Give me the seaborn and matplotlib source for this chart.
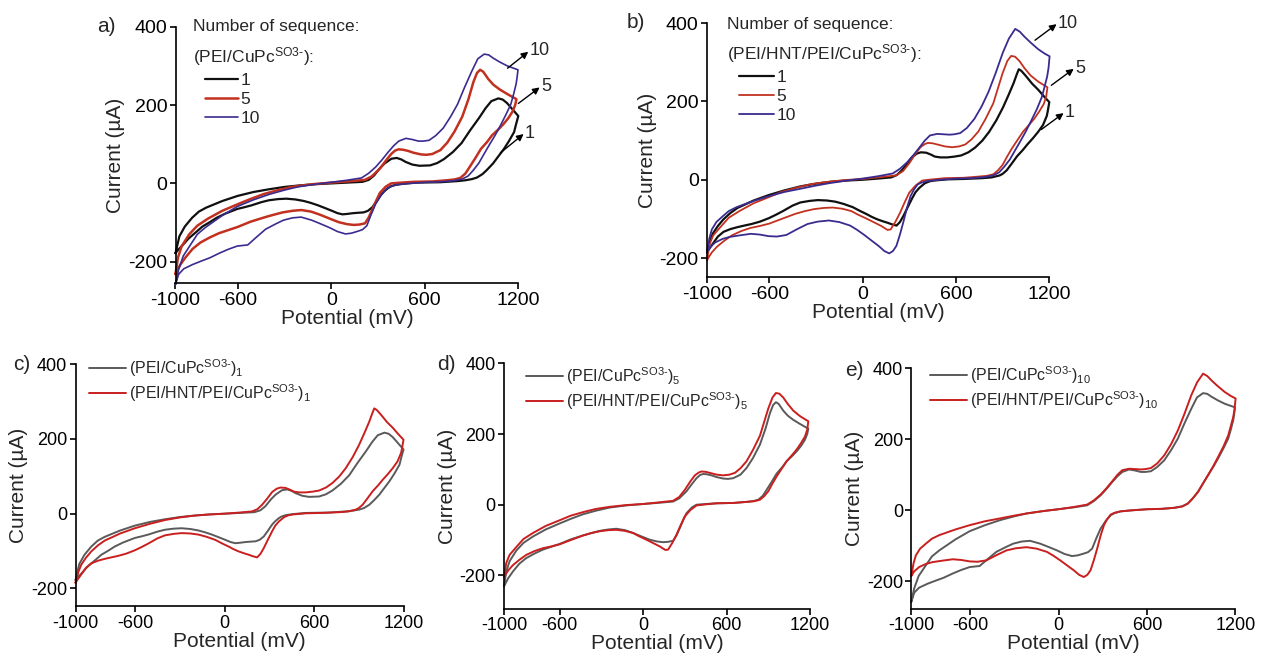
import matplotlib
matplotlib.use("Agg")
import matplotlib.pyplot as plt
import seaborn as sns

# ---------------- data (potential in mV, current in uA), closed CV loops ----------------
# (PEI/CuPc)n  -- sequences 1, 5, 10
cv_a1_mv = [-1000, -975, -940, -894, -850, -804, -700, -602, -500, -400, -300, -200, -100, 0, 100, 200, 240, 274, 310, 342, 386, 420, 450, 476, 520, 566, 634, 680, 723, 780, 836, 890, 948, 990, 1027, 1072, 1100, 1128, 1165, 1200,
            1185, 1173, 1140, 1106, 1070, 1038, 1000, 971, 935, 903, 860, 813, 700, 544, 460, 409, 380, 364, 340, 319, 290, 263, 235, 207, 170, 139, 100, 72, 40, 4, -40, -85, -130, -175, -230, -288, -340, -400, -450, -512, -560, -602, -680, -737, -780, -827, -870, -917, -955, -984, -1000]
cv_a1_ua = [-178, -135, -110, -88, -72, -62, -45, -32, -22, -15, -9, -5, -2, 0, 2, 4, 9, 20, 38, 51, 63, 65, 61, 55, 48, 45, 46, 52, 62, 80, 103, 135, 167, 192, 210, 217, 214, 205, 188, 172,
            150, 131, 108, 87, 68, 51, 35, 24, 15, 11, 8, 6, 3, 2, -1, -4, -8, -12, -20, -29, -46, -61, -70, -74, -75, -76, -78, -79, -76, -70, -63, -56, -50, -45, -41, -39, -40, -43, -48, -56, -61, -65, -77, -88, -99, -110, -125, -141, -158, -170, -178]

cv_a5_mv = [-1000, -984, -960, -912, -860, -792, -700, -600, -520, -432, -340, -240, -120, 0, 100, 216, 260, 312, 350, 384, 410, 432, 460, 492, 530, 576, 610, 648, 700, 744, 790, 840, 880, 912, 935, 955, 975, 1008, 1040, 1080, 1130, 1188,
            1180, 1164, 1135, 1104, 1070, 1032, 1000, 960, 925, 888, 860, 828, 790, 744, 650, 528, 450, 384, 350, 312, 288, 264, 240, 216, 180, 144, 100, 48, -10, -72, -130, -192, -250, -312, -370, -432, -520, -600, -660, -720, -780, -840, -890, -936, -970, -1000]
cv_a5_ua = [-231, -189, -160, -130, -108, -90, -70, -53, -40, -27, -17, -8, -2, 2, 5, 9, 18, 38, 58, 75, 84, 87, 86, 83, 78, 74, 73, 75, 85, 104, 132, 170, 215, 259, 282, 290, 285, 266, 252, 240, 228, 215,
            200, 184, 166, 151, 137, 123, 106, 88, 65, 42, 25, 14, 10, 8, 5, 4, 2, 0, -8, -24, -44, -66, -87, -102, -105, -106, -104, -99, -90, -80, -72, -68, -70, -74, -80, -87, -98, -111, -119, -127, -138, -151, -167, -189, -208, -231]

cv_a10_mv = [-1000, -981, -950, -901, -860, -810, -700, -604, -500, -399, -300, -217, -100, 0, 100, 194, 240, 285, 325, 365, 400, 433, 479, 520, 559, 590, 627, 670, 718, 765, 810, 855, 901, 940, 981, 1010, 1038, 1080, 1129, 1170, 1198,
             1192, 1186, 1170, 1152, 1120, 1083, 1050, 1015, 980, 947, 910, 878, 840, 787, 700, 604, 500, 422, 380, 354, 320, 285, 255, 228, 200, 171, 130, 91, 40, -11, -70, -125, -194, -250, -308, -360, -422, -480, -536, -604, -660, -718, -780, -833, -890, -947, -980, -1000]
cv_a10_ua = [-258, -221, -185, -155, -130, -113, -82, -59, -42, -28, -17, -9, -2, 3, 8, 14, 26, 42, 60, 80, 96, 108, 115, 112, 108, 108, 110, 122, 141, 170, 202, 245, 286, 318, 330, 328, 320, 310, 300, 294, 290,
             270, 254, 228, 202, 175, 146, 122, 99, 75, 52, 33, 19, 11, 7, 4, 3, 0, -3, -8, -14, -30, -52, -80, -108, -118, -122, -127, -129, -123, -113, -103, -94, -86, -88, -94, -104, -117, -137, -157, -160, -168, -178, -190, -198, -207, -218, -232, -258]

# (PEI/HNT/PEI/CuPc)n  -- sequences 1, 5, 10
cv_b1_mv = [-1000, -980, -962, -930, -894, -850, -804, -700, -602, -500, -400, -300, -200, -100, 0, 100, 184, 220, 252, 285, 319, 350, 375, 409, 440, 465, 500, 544, 590, 634, 680, 723, 770, 813, 860, 903, 940, 971, 990, 1004, 1020, 1049, 1090, 1128, 1165, 1200,
            1190, 1184, 1160, 1128, 1095, 1061, 1030, 993, 960, 926, 900, 881, 830, 768, 650, 544, 460, 431, 400, 364, 340, 319, 290, 263, 240, 218, 190, 162, 130, 94, 60, 27, -20, -63, -120, -175, -230, -288, -340, -400, -450, -512, -560, -602, -660, -714, -760, -804, -850, -894, -930, -962, -985, -1000]
cv_b1_ua = [-185, -155, -137, -118, -101, -85, -72, -53, -39, -27, -17, -10, -5, -2, 0, 3, 6, 12, 24, 40, 58, 67, 70, 69, 64, 59, 57, 57, 59, 62, 70, 82, 100, 122, 152, 185, 218, 247, 268, 282, 278, 265, 245, 230, 213, 198,
            175, 163, 140, 122, 106, 91, 76, 60, 42, 24, 15, 11, 6, 4, 2, 1, -2, -4, -9, -21, -32, -47, -70, -92, -108, -117, -114, -110, -106, -101, -95, -88, -79, -70, -62, -56, -53, -52, -54, -58, -66, -80, -90, -98, -107, -113, -117, -121, -126, -133, -145, -163, -176, -185]

cv_b5_mv = [-1000, -984, -960, -912, -860, -792, -700, -600, -520, -432, -340, -240, -120, 0, 100, 216, 260, 300, 340, 372, 400, 420, 450, 480, 530, 576, 620, 660, 700, 744, 790, 840, 875, 900, 930, 955, 980, 1008, 1040, 1080, 1130, 1188,
            1180, 1164, 1135, 1104, 1070, 1032, 1000, 960, 930, 900, 870, 840, 800, 744, 650, 528, 450, 384, 340, 300, 270, 240, 210, 180, 160, 120, 70, 24, -30, -72, -130, -192, -250, -312, -370, -432, -520, -600, -660, -720, -780, -840, -890, -936, -970, -1000]
cv_b5_ua = [-205, -165, -142, -120, -97, -80, -60, -44, -31, -21, -12, -6, -1, 2, 6, 11, 22, 42, 66, 83, 91, 94, 93, 90, 85, 83, 85, 90, 103, 123, 155, 195, 240, 272, 303, 316, 314, 303, 285, 266, 250, 236,
            212, 193, 174, 156, 140, 123, 104, 80, 60, 38, 24, 14, 10, 8, 5, 4, 1, -2, -15, -33, -58, -85, -108, -127, -128, -118, -108, -99, -89, -80, -74, -71, -72, -75, -80, -87, -100, -112, -118, -123, -131, -142, -156, -171, -186, -205]

cv_b10_mv = [-1000, -985, -969, -940, -901, -860, -810, -700, -604, -500, -399, -300, -217, -100, 0, 100, 194, 240, 285, 325, 365, 400, 433, 479, 520, 559, 590, 627, 670, 718, 765, 810, 855, 901, 940, 981, 1010, 1038, 1080, 1129, 1170, 1202,
             1195, 1186, 1170, 1152, 1120, 1083, 1050, 1015, 980, 947, 910, 878, 840, 787, 700, 604, 500, 422, 380, 354, 330, 308, 285, 262, 240, 217, 195, 171, 140, 103, 60, 11, -35, -80, -150, -217, -290, -354, -420, -490, -550, -604, -660, -718, -790, -855, -900, -947, -980, -1000]
cv_b10_ua = [-185, -150, -127, -108, -94, -80, -70, -54, -42, -31, -23, -15, -9, -2, 3, 9, 16, 28, 44, 62, 82, 100, 113, 117, 116, 115, 116, 119, 132, 155, 187, 225, 272, 324, 360, 385, 378, 366, 350, 333, 322, 315,
             285, 263, 238, 211, 180, 150, 124, 99, 75, 52, 33, 19, 11, 7, 4, 3, 0, -3, -7, -12, -25, -42, -72, -108, -140, -169, -182, -188, -182, -169, -156, -141, -128, -117, -108, -104, -107, -113, -126, -141, -145, -144, -140, -138, -142, -146, -151, -160, -172, -185]

x_ticks = [-1000, -600, 0, 600, 1200]
y_ticks = [-200, 0, 200, 400]
seq_labels = ["1", "5", "10"]
series_a_name = r"(PEI/CuPc$^{\mathrm{SO3}\text{-}}$)"
series_b_name = r"(PEI/HNT/PEI/CuPc$^{\mathrm{SO3}\text{-}}$)"

# ---------------- style ----------------
sns.set_style("ticks")
plt.rcParams["font.family"] = ["Liberation Sans", "DejaVu Sans"]
plt.rcParams["mathtext.fontset"] = "custom"
plt.rcParams["mathtext.rm"] = "Liberation Sans"
plt.rcParams["mathtext.it"] = "Liberation Sans:italic"
plt.rcParams["mathtext.bf"] = "Liberation Sans:bold"
plt.rcParams["mathtext.sf"] = "Liberation Sans"
plt.rcParams["axes.unicode_minus"] = False

BLACK = "#101010"
RED_A = "#c2311f"
PURPLE = "#3a2b8f"
GRAY = "#5a5a5a"
RED = "#c91f1f"

W, H = 1261, 656
fig = plt.figure(figsize=(W / 100, H / 100), dpi=100)


def fpos(x, y):
    return (x / W, 1 - y / H)


def make_ax(left, top, right, bottom):
    return fig.add_axes([left / W, 1 - bottom / H, (right - left) / W, (bottom - top) / H])


def style_ax(ax, ylim, fs_tick):
    ax.set_xlim(-1000, 1200)
    ax.set_ylim(*ylim)
    ax.set_xticks(x_ticks)
    ax.set_yticks(y_ticks)
    ax.set_xticklabels([str(t) for t in x_ticks])
    ax.set_yticklabels([str(t) for t in y_ticks])
    sns.despine(ax=ax)
    for s in ["left", "bottom"]:
        ax.spines[s].set_linewidth(1.2)
        ax.spines[s].set_color("black")
    ax.tick_params(direction="out", length=4, width=1.2, labelsize=fs_tick, colors="black", pad=2)
    ax.set_xlabel("Potential (mV)", fontsize=15, labelpad=0)
    ax.set_ylabel("Current (µA)", fontsize=15, labelpad=2)


def draw(ax, xs, ys, color, lw, label):
    sns.lineplot(x=xs, y=ys, sort=False, estimator=None, color=color, lw=lw, ax=ax, legend=False)
    line = ax.lines[-1]
    line.set_label(label)
    line.set_clip_on(False)
    return line


def arrow(ax, tail, head, text):
    ax.annotate("", xy=head, xytext=tail, annotation_clip=False,
                arrowprops=dict(arrowstyle="-|>", color="black", lw=1.0, mutation_scale=10, shrinkA=0, shrinkB=0))
    ax.text(head[0] + 8, head[1] + 2, text, fontsize=13, ha="left", va="center", clip_on=False)


# ---------------- panel a ----------------
ax_a = make_ax(175.5, 26.7, 518.3, 283.3)
style_ax(ax_a, (-255, 400), 14)
ha = [draw(ax_a, cv_a1_mv, cv_a1_ua, BLACK, 1.6, seq_labels[0]),
      draw(ax_a, cv_a5_mv, cv_a5_ua, RED_A, 1.8, seq_labels[1]),
      draw(ax_a, cv_a10_mv, cv_a10_ua, PURPLE, 1.2, seq_labels[2])]
ax_a.legend(handles=ha, loc="upper left", bbox_to_anchor=fpos(205, 73), bbox_transform=fig.transFigure,
            frameon=False, fontsize=12.5, handlelength=1.9, handletextpad=0.15, labelspacing=0.22,
            borderpad=0, borderaxespad=0)
fig.text(*fpos(193, 26.5), "Number of sequence:", fontsize=12.5, va="center", ha="left")
fig.text(*fpos(193, 56.5), series_a_name + ":", fontsize=12.5, va="center", ha="left")
arrow(ax_a, (1131, 294), (1264, 336), "10")
arrow(ax_a, (1200, 204), (1337, 245), "5")
arrow(ax_a, (1085, 78), (1234, 126), "1")
fig.text(*fpos(97, 27), "a)", fontsize=15, va="center", ha="left")

# ---------------- panel b ----------------
ax_b = make_ax(707, 23, 1049.3, 277.3)
style_ax(ax_b, (-249, 400), 14)
hb = [draw(ax_b, cv_b1_mv, cv_b1_ua, BLACK, 1.6, seq_labels[0]),
      draw(ax_b, cv_b5_mv, cv_b5_ua, RED_A, 1.3, seq_labels[1]),
      draw(ax_b, cv_b10_mv, cv_b10_ua, PURPLE, 1.3, seq_labels[2])]
ax_b.legend(handles=hb, loc="upper left", bbox_to_anchor=fpos(739, 70), bbox_transform=fig.transFigure,
            frameon=False, fontsize=12.5, handlelength=2.0, handletextpad=0.15, labelspacing=0.22,
            borderpad=0, borderaxespad=0)
fig.text(*fpos(727, 24), "Number of sequence:", fontsize=12.5, va="center", ha="left")
fig.text(*fpos(727, 54), series_b_name + ":", fontsize=12.5, va="center", ha="left")
arrow(ax_b, (1108, 356), (1247, 397), "10")
arrow(ax_b, (1213, 241), (1357, 283), "5")
arrow(ax_b, (1148, 128), (1292, 170), "1")
fig.text(*fpos(627, 23), "b)", fontsize=15, va="center", ha="left")

# ---------------- panels c, d, e ----------------
bottom_panels = [
    ("c)", (75.5, 364.3, 403.5, 606.3), (-248, 400), cv_a1_mv, cv_a1_ua, cv_b1_mv, cv_b1_ua, "1", fpos(89, 357), fpos(13, 364)),
    ("d)", (504, 363.3, 810, 609), (-295, 400), cv_a5_mv, cv_a5_ua, cv_b5_mv, cv_b5_ua, "5", fpos(526, 365), fpos(437, 364)),
    ("e)", (911.3, 368.3, 1235.3, 608.6), (-277, 400), cv_a10_mv, cv_a10_ua, cv_b10_mv, cv_b10_ua, "10", fpos(930, 364), fpos(845, 371)),
]
for letter, box, ylim, gx, gy, rx, ry, n, leg_pos, let_pos in bottom_panels:
    ax = make_ax(*box)
    style_ax(ax, ylim, 13)
    h1 = draw(ax, gx, gy, GRAY, 1.4, series_a_name + "$_{" + n + "}$")
    h2 = draw(ax, rx, ry, RED, 1.4, series_b_name + "$_{" + n + "}$")
    ax.legend(handles=[h1, h2], loc="upper left", bbox_to_anchor=leg_pos, bbox_transform=fig.transFigure,
              frameon=False, fontsize=11.5, handlelength=2.3, handletextpad=0.2, labelspacing=0.2,
              borderpad=0, borderaxespad=0)
    fig.text(*let_pos, letter, fontsize=15, va="center", ha="left")

fig.savefig("out.png", dpi=100)
